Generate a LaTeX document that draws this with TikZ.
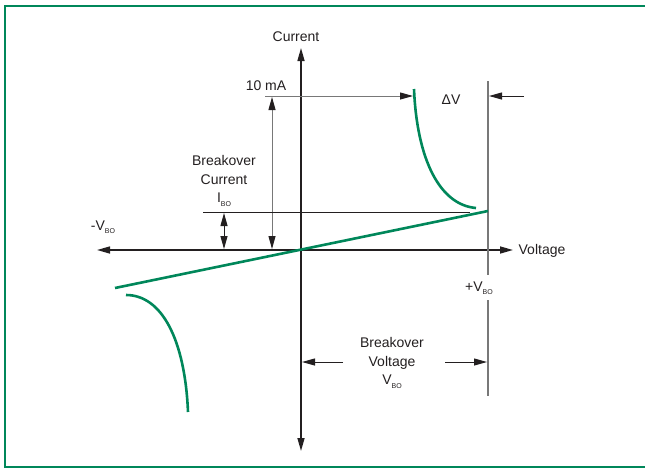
\documentclass[tikz,border=0pt]{standalone}
\usepackage{fontspec}
\setmainfont{Liberation Sans}
\usetikzlibrary{arrows.meta}
\definecolor{ecgreen}{RGB}{0,135,90}
\definecolor{axisblack}{RGB}{35,31,32}
\definecolor{linegray}{RGB}{120,120,120}
\newcommand{\sbo}{\raisebox{-3.5pt}{\fontsize{7}{7}\selectfont BO}}
\begin{document}
\begin{tikzpicture}[x=1pt,y=-1pt,
  lbl/.style={font=\fontsize{14}{18.5}\selectfont, text=axisblack, inner sep=0pt, align=center},
  axis/.style={draw=axisblack, line width=1.5pt},
  tip/.style={-{Triangle[length=13pt,width=7pt,color=axisblack]}},
  dtip/.style={{Triangle[length=13pt,width=7pt,color=axisblack]}-{Triangle[length=13pt,width=7pt,color=axisblack]}},
  thin gray/.style={draw=linegray, line width=1pt},
  thin black/.style={draw=axisblack, line width=1pt},
  curve/.style={draw=ecgreen, line width=2.6pt}]
\useasboundingbox (0,0) rectangle (645,469);
\begin{scope}
\clip (0,0) rectangle (645,469);
\draw[ecgreen, line width=1.5pt] (5,6) rectangle (650,467);
\end{scope}
% coordinates
\coordinate (O) at (301,250);
\coordinate (ytop) at (301,48);
\coordinate (ybot) at (301,451);
\coordinate (xleft) at (97,250);
\coordinate (xright) at (513,250);
% axes
\draw[axis, tip] (O) -- (ytop);
\draw[axis, tip] (O) -- (ybot);
\draw[axis, tip] (O) -- (xleft);
\draw[axis, tip] (O) -- (xright);
% labels
\node[lbl] (cur) at (296,37) {Current};
\node[lbl] (volt) at (542,251) {Voltage};
\node[lbl] (ma) at (266,86) {10 mA};
\node[lbl] (dv) at (451,100) {ΔV};
\node[lbl] (mvbo) at (103,227) {-V\sbo};
\node[lbl] (pvbo) at (479,288) {+V\sbo};
\node[lbl] (bc) at (224,181) {Breakover\\Current\\I\sbo};
\node[lbl] (bv) at (392,363) {Breakover\\Voltage\\V\sbo};
% 10 mA line
\coordinate (ma0) at (265,96);
\coordinate (ma1) at (413,96);
\draw[thin gray, tip] (ma0) -- (ma1);
% 10 mA vertical double arrow
\coordinate (va0) at (272,97);
\coordinate (va1) at (272,249);
\draw[thin gray, dtip] (va0) -- (va1);
% IBO line and arrow
\coordinate (ib0) at (203,212);
\coordinate (ib1) at (470,212);
\draw[thin black] (ib0) -- (ib1);
\coordinate (iba) at (224,213);
\coordinate (ibb) at (224,249);
\draw[thin black, dtip] (iba) -- (ibb);
% VBO vertical line with gap
\coordinate (vt) at (488,81);
\coordinate (vm1) at (488,275);
\coordinate (vm2) at (488,300);
\coordinate (vb) at (488,396);
\draw[draw=linegray, line width=1.6pt] (vt) -- (vm1) (vm2) -- (vb);
% Delta V arrow
\coordinate (dv0) at (524,96);
\coordinate (dv1) at (489,96);
\draw[thin black, tip] (dv0) -- (dv1);
% Breakover voltage arrows
\coordinate (bl0) at (343,362);
\coordinate (bl1) at (302,362);
\coordinate (br0) at (445,362);
\coordinate (br1) at (487,362);
\draw[thin black, tip] (bl0) -- (bl1);
\draw[thin black, tip] (br0) -- (br1);
% green characteristic
\coordinate (g0) at (115,288);
\coordinate (g1) at (488,211);
\draw[curve] (g0) -- (g1);
\coordinate (u0) at (414,89);
\coordinate (u1) at (476,208);
\draw[curve] (u0) .. controls (417,160) and (440,205) .. (u1);
\coordinate (l0) at (126,295);
\coordinate (l1) at (188,412);
\draw[curve] (l0) .. controls (162,295) and (185,340) .. (l1);
\end{tikzpicture}
\end{document}
